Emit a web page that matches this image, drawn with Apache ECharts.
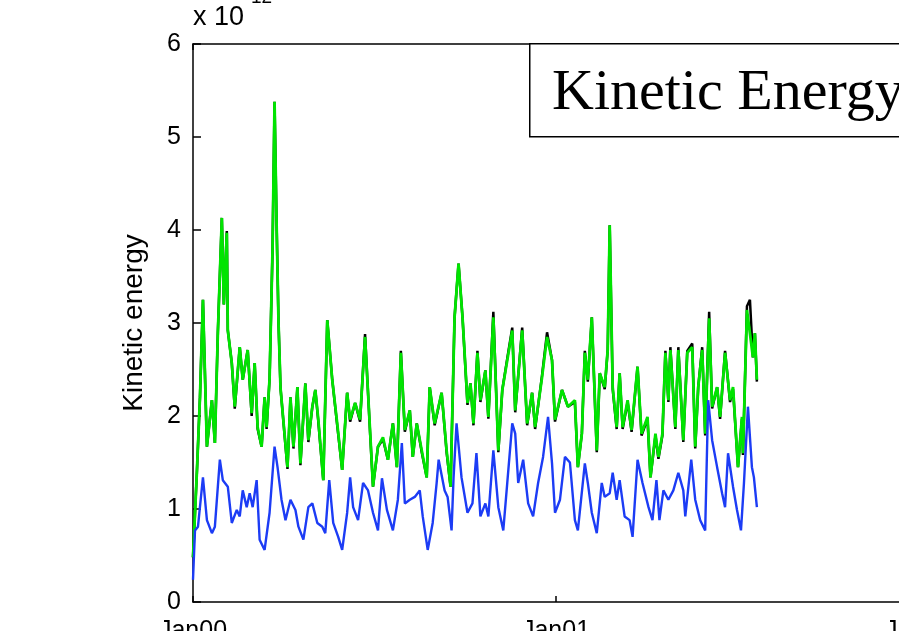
<!DOCTYPE html>
<html>
<head>
<meta charset="utf-8">
<script src="https://cdn.jsdelivr.net/npm/echarts@6/dist/echarts.min.js"></script>
<style>
html,body{margin:0;padding:0;background:#fff;overflow:hidden;}
#chart{width:899px;height:631px;}
</style>
</head>
<body>
<div id="chart"></div>
<script>
// x tick labels (one per 365 days)
var xTickLabels = ['Jan00', 'Jan01', 'Jan02'];
var yTickLabels = ['0', '1', '2', '3', '4', '5', '6'];

// green series (days since start, value in units of 1e12)
var greenDays = [0,4,7,10,14,19,22,25,29,31,34,35,39,42,47,50,55,59,62,65,69,72,74,77,80,82,84,86,88,90,95,98,101,105,108,113,116,120,123,126,131,135,140,145,150,155,158,163,168,173,178,181,186,191,196,201,205,209,213,218,221,225,230,235,238,243,250,255,259,263,267,271,276,279,282,286,289,294,297,302,307,311,316,321,324,331,336,341,344,351,356,361,364,371,377,384,387,391,394,397,401,406,409,414,417,419,422,426,429,432,437,441,447,451,457,460,465,468,472,475,478,480,485,488,493,497,502,505,508,512,515,519,522,527,530,535,540,543,548,552,553,557,560,563,565,567];
var greenVals = [0.48,1.42,2.2,3.25,1.67,2.17,1.71,2.9,4.13,3.2,3.97,2.92,2.57,2.1,2.74,2.39,2.71,2.03,2.57,1.88,1.67,2.2,1.88,2.4,3.8,5.38,4.1,3.0,2.3,2.31,1.45,2.2,1.67,2.31,1.49,2.35,1.74,2.1,2.28,1.96,1.31,3.03,2.39,1.92,1.42,2.25,1.96,2.14,1.96,2.85,1.85,1.24,1.67,1.77,1.53,1.92,1.45,2.68,1.85,2.06,1.56,1.92,1.63,1.34,2.31,1.92,2.25,1.63,1.24,3.06,3.64,3.06,2.14,2.35,1.92,2.68,2.17,2.49,1.99,3.06,1.63,2.28,2.6,2.92,2.06,2.92,1.92,2.25,1.88,2.42,2.85,2.6,1.96,2.28,2.1,2.17,1.45,1.81,2.68,2.39,3.06,1.63,2.46,2.31,2.71,4.05,2.31,1.88,2.46,1.88,2.17,1.85,2.53,1.81,1.99,1.34,1.81,1.56,1.81,2.68,2.17,2.71,1.88,2.71,1.74,2.68,2.74,1.67,2.31,2.71,1.81,3.05,2.1,2.31,1.99,2.68,2.17,2.31,1.45,1.99,1.6,3.14,2.89,2.63,2.89,2.39];
// black (total) series, same sampling days as green
var blackVals = [0.48,1.42,2.2,3.25,1.67,2.17,1.71,2.9,4.13,3.2,3.99,2.92,2.57,2.08,2.74,2.39,2.71,2.0,2.57,1.86,1.67,2.2,1.86,2.4,3.8,5.38,4.1,3.0,2.3,2.31,1.43,2.2,1.65,2.31,1.47,2.35,1.72,2.1,2.28,1.94,1.31,3.03,2.39,1.9,1.42,2.25,1.94,2.14,1.94,2.88,1.83,1.24,1.67,1.75,1.53,1.92,1.45,2.7,1.83,2.06,1.56,1.92,1.61,1.34,2.31,1.9,2.25,1.61,1.24,3.06,3.64,3.06,2.12,2.35,1.9,2.7,2.15,2.49,1.97,3.12,1.61,2.28,2.62,2.95,2.04,2.95,1.9,2.25,1.86,2.44,2.9,2.6,1.94,2.28,2.1,2.15,1.45,1.81,2.7,2.37,3.06,1.61,2.46,2.29,2.71,4.05,2.29,1.86,2.46,1.86,2.15,1.83,2.53,1.79,1.97,1.34,1.79,1.54,1.79,2.7,2.15,2.74,1.86,2.74,1.72,2.7,2.78,1.65,2.31,2.74,1.79,3.12,2.08,2.31,1.97,2.7,2.15,2.29,1.45,1.97,1.58,3.18,3.25,2.63,2.89,2.37];

// blue series
var blueDays = [0,2,5,10,14,19,22,27,30,35,39,44,47,50,54,57,60,64,67,72,77,82,85,89,93,98,103,106,111,116,120,125,130,133,137,141,146,150,155,158,161,166,171,176,181,186,190,195,201,206,210,213,218,223,228,231,236,241,245,247,253,256,260,262,265,270,276,281,285,289,294,297,302,307,312,316,321,324,327,332,337,342,347,352,357,361,364,369,374,379,384,387,394,397,401,406,411,414,419,422,426,429,434,439,442,447,452,458,462,466,469,473,478,483,488,493,495,501,505,510,515,518,522,527,532,535,538,543,547,551,554,558,562,564,567];
var blueVals = [0.24,0.77,0.81,1.34,0.88,0.74,0.81,1.53,1.31,1.24,0.85,0.99,0.92,1.2,1.02,1.17,1.02,1.31,0.67,0.56,0.96,1.67,1.45,1.1,0.88,1.1,0.99,0.81,0.67,1.02,1.06,0.85,0.81,0.74,1.31,0.85,0.7,0.56,0.96,1.34,1.02,0.88,1.28,1.2,0.96,0.77,1.33,0.99,0.77,1.1,1.71,1.06,1.1,1.13,1.2,0.92,0.56,0.85,1.28,1.53,1.2,1.13,0.77,1.34,1.92,1.34,0.96,1.06,1.6,0.92,1.06,0.92,1.63,1.02,0.77,1.28,1.92,1.81,1.28,1.53,1.06,0.92,1.28,1.56,1.99,1.49,0.96,1.1,1.56,1.5,0.88,0.77,1.49,1.28,0.96,0.74,1.28,1.13,1.17,1.39,1.1,1.31,0.92,0.88,0.7,1.53,1.28,1.02,0.88,1.31,0.88,1.2,1.1,1.2,1.39,1.2,0.92,1.53,1.1,0.88,0.77,2.17,1.74,1.45,1.17,1.02,1.6,1.24,0.99,0.77,1.28,2.1,1.45,1.34,1.02];

function pairs(xs, ys) { return xs.map(function (x, i) { return [x, ys[i]]; }); }

var FONT = '"Liberation Sans", Arial, Helvetica, sans-serif';
var chart = echarts.init(document.getElementById('chart'));
chart.setOption({
  animation: false,
  backgroundColor: '#ffffff',
  grid: { left: 193, top: 44, width: 726, height: 558, containLabel: false, outerBoundsMode: 'none' },
  xAxis: [{
    type: 'value', min: 0, max: 730, interval: 365,
    axisLine: { show: true, lineStyle: { color: '#000', width: 1.5 } },
    axisTick: { show: true, inside: true, length: 6, lineStyle: { color: '#000', width: 1.5 } },
    splitLine: { show: false },
    axisLabel: {
      margin: 17, color: '#000', fontSize: 25, fontFamily: FONT,
      formatter: function (v) { return xTickLabels[Math.round(v / 365)]; }
    }
  }, {
    type: 'value', position: 'top', min: 0, max: 730, interval: 365,
    axisLine: { show: true, lineStyle: { color: '#000', width: 1.5 } },
    axisTick: { show: true, inside: true, length: 6, lineStyle: { color: '#000', width: 1.5 } },
    splitLine: { show: false }, axisLabel: { show: false }
  }],
  yAxis: [{
    type: 'value', min: 0, max: 6, interval: 1,
    name: 'Kinetic energy', nameLocation: 'middle', nameGap: 45, nameRotate: 90,
    nameTextStyle: { color: '#000', fontSize: 28, fontFamily: FONT },
    axisLine: { show: true, lineStyle: { color: '#000', width: 1.5 } },
    axisTick: { show: true, inside: true, length: 8, lineStyle: { color: '#000', width: 1.5 } },
    splitLine: { show: false },
    axisLabel: {
      margin: 12, color: '#000', fontSize: 25, fontFamily: FONT,
      formatter: function (v) { return yTickLabels[Math.round(v)]; }
    }
  }],
  graphic: [
    { type: 'rect', left: 529, top: 43, shape: { width: 420, height: 93 },
      style: { fill: '#fff', stroke: '#000', lineWidth: 1.5 }, z: 100 },
    { type: 'text', left: 552, top: 65, z: 101,
      style: { text: 'Kinetic Energy', font: '58px "Liberation Serif", "Times New Roman", serif', fill: '#000' } },
    { type: 'text', left: 193, top: 4,
      style: { text: 'x 10', font: '27px ' + FONT, fill: '#000' } },
    { type: 'text', left: 251, top: -12,
      style: { text: '12', font: '19px ' + FONT, fill: '#000' } }
  ],
  series: [
    { type: 'line', name: 'Total', data: pairs(greenDays, blackVals), showSymbol: false,
      lineStyle: { color: '#000', width: 2.5 }, z: 2 },
    { type: 'line', name: 'Green', data: pairs(greenDays, greenVals), showSymbol: false,
      lineStyle: { color: '#00e400', width: 2.8 }, z: 3 },
    { type: 'line', name: 'Blue', data: pairs(blueDays, blueVals), showSymbol: false,
      lineStyle: { color: '#1c3cf5', width: 2.4 }, z: 4 }
  ]
});
</script>
</body>
</html>
